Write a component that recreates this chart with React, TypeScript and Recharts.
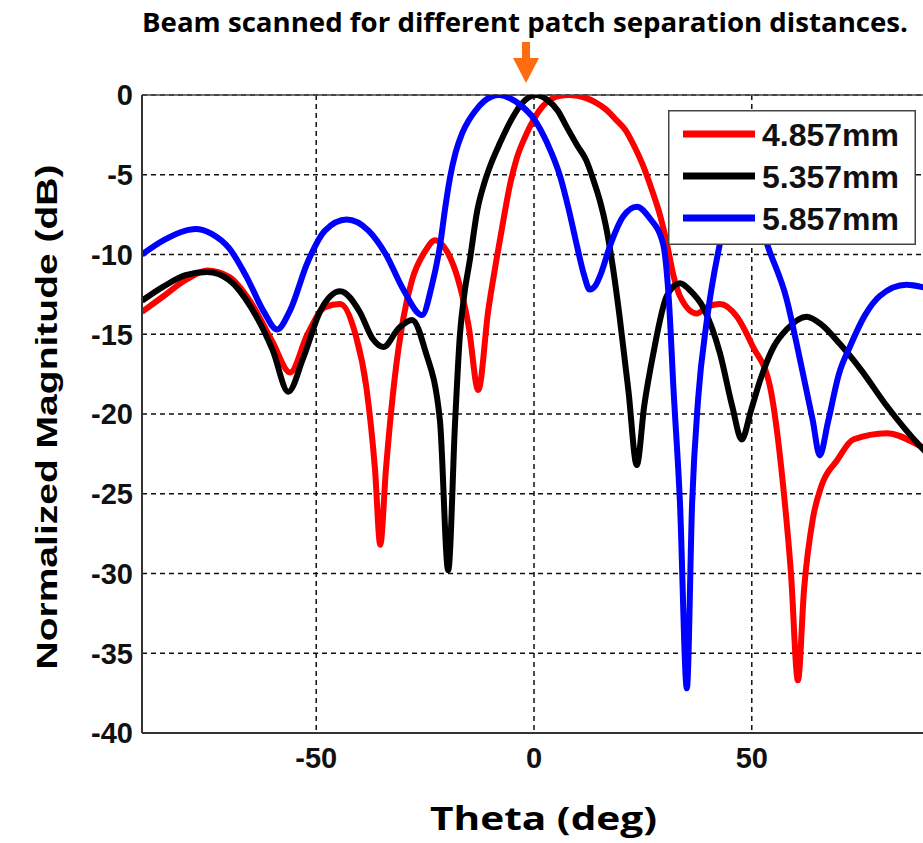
import React from 'react';
import { LineChart, Line, XAxis, YAxis, CartesianGrid, Legend, ReferenceLine } from 'recharts';

// values (theta in deg, magnitude in dB)
const thetaRed = [-90, -85, -80, -75, -70, -65, -60, -56, -52, -48, -44.5, -41, -38.5, -36.5, -35.3, -34, -32, -30, -28, -25, -22.7, -20, -17.5, -15, -12.8, -10.5, -8.6, -7, -5.5, -4, -2, 0, 2, 4, 6, 8, 10, 12, 14, 16.5, 19, 21, 23, 25, 27, 29, 30.5, 32, 33.5, 37.4, 39.7, 42.7, 46.6, 50.3, 54.2, 57.2, 59, 60.6, 62, 64, 66, 69.6, 73.3, 81, 88.6, 90];
const dbRed = [-13.6, -12.6, -11.6, -11.0, -11.4, -13.0, -15.5, -17.4, -15.0, -13.3, -13.1, -15.0, -18.3, -23.5, -28.2, -23.5, -17.8, -14.0, -11.6, -9.8, -9.1, -9.8, -11.5, -14.5, -18.5, -13.5, -10.3, -7.8, -5.6, -4.0, -2.6, -1.5, -0.7, -0.25, -0.05, 0, -0.05, -0.2, -0.45, -0.9, -1.6, -2.2, -3.2, -4.4, -5.9, -7.6, -9.3, -11.3, -12.6, -13.7, -13.3, -13.1, -13.9, -15.8, -18.3, -24.5, -30, -36.7, -31, -26.6, -24.5, -22.9, -21.6, -21.2, -22.0, -22.2];

const thetaBlack = [-90, -85, -80, -75, -70, -65, -60, -56.4, -53, -49, -44.5, -40, -37, -34.6, -31, -28, -25, -21.6, -19.7, -18.1, -17, -16, -14.7, -13, -11.5, -10, -7.8, -5.5, -3, 0.5, 3, 5.5, 7.5, 10, 12, 13.6, 15.2, 16.5, 18, 19.7, 21.7, 23.6, 25.3, 27.4, 30.5, 33.5, 36, 38.8, 42.7, 45.5, 47.7, 49.8, 51.9, 55, 58, 62.6, 66, 70.2, 75, 81, 88.6, 90];
const dbBlack = [-12.9, -12.0, -11.3, -11.1, -11.6, -13.3, -16.0, -18.6, -16.5, -13.5, -12.3, -13.6, -15.3, -15.8, -14.6, -14.1, -16.0, -20.4, -29.8, -20.4, -15.0, -12.5, -10.3, -7.2, -5.6, -4.4, -3.0, -1.7, -0.6, 0, -0.3, -1.0, -2.0, -3.2, -4.1, -5.3, -6.7, -8.2, -10.6, -14.0, -18.6, -23.2, -19.5, -16.2, -12.6, -11.8, -12.3, -13.3, -16.2, -19.5, -21.6, -19.8, -17.9, -15.8, -14.7, -13.9, -14.4, -15.6, -17.2, -19.5, -22.0, -22.4];

const thetaBlue = [-90, -85, -80, -77.8, -74, -70, -66, -62, -59, -56, -52, -48, -43, -38, -34, -30, -25.7, -23.5, -21.5, -20.4, -19.3, -18, -16.5, -15, -13.5, -11.5, -8, -5.5, -3, 0, 3, 6, 8, 9.9, 11.5, 12.8, 14.2, 15.5, 17.4, 20.5, 23.6, 26.5, 29.6, 31, 32, 33.5, 35.1, 36.3, 37.7, 39.7, 42.7, 45, 47.5, 50.5, 53.7, 58, 61, 64, 65.6, 67.5, 70, 72.5, 76, 79.4, 85.5, 90];
const dbBlue = [-10.0, -9.1, -8.5, -8.4, -8.7, -9.6, -11.4, -13.6, -14.7, -13.5, -10.5, -8.5, -7.8, -8.5, -10.0, -12.2, -13.8, -12.0, -9.3, -7.1, -5.2, -3.6, -2.4, -1.6, -1.0, -0.4, 0, -0.2, -0.65, -1.5, -3.0, -5.1, -7.2, -9.5, -11.3, -12.2, -11.9, -11.1, -9.5, -7.6, -7.0, -7.7, -9.3, -13, -18.3, -25.5, -37.2, -25.6, -19, -14.1, -9.3, -6.8, -6.0, -6.8, -9.5, -12.8, -16.5, -20.4, -22.6, -20.5, -17.5, -15.8, -13.8, -12.6, -11.9, -12.1];

const xTicks = [-50, 0, 50];
const yTicks = [0, -5, -10, -15, -20, -25, -30, -35, -40];

const seriesNames = ['4.857mm', '5.357mm', '5.857mm'];
const seriesColors = ['#ff0000', '#000000', '#0000ff'];

const toPoints = (thetas: number[], dbs: number[]) =>
  thetas.map((t, i) => ({ theta: t, db: dbs[i] }));

const series = [
  toPoints(thetaRed, dbRed),
  toPoints(thetaBlack, dbBlack),
  toPoints(thetaBlue, dbBlue),
];

const tickFont = { fontFamily: '"Liberation Sans", Arial, sans-serif', fontWeight: 700, fontSize: 29, fill: '#111' };

// boxed legend like the MATLAB one
const BoxLegend = () => (
  <svg width={248} height={135}>
    <rect x={0.75} y={0.75} width={246.5} height={133.5} fill="#fff" stroke="#444" strokeWidth={1.5} />
    {seriesNames.map((name, i) => (
      <g key={name}>
        <line x1={15} x2={87} y1={24 + i * 42} y2={24 + i * 42} stroke={seriesColors[i]} strokeWidth={7} />
        <text
          x={94}
          y={24 + i * 42}
          dy="0.36em"
          fontFamily='"Liberation Sans", Arial, sans-serif'
          fontWeight={700}
          fontSize={32}
          fill="#111"
        >
          {name}
        </text>
      </g>
    ))}
  </svg>
);

export default function App() {
  return (
    <div style={{ position: 'absolute', left: 0, top: 0, width: 923, height: 843, overflow: 'hidden', background: '#fff' }}>
      <LineChart width={930} height={843} margin={{ top: 95, right: 4, bottom: 0, left: 0 }}>
        <CartesianGrid stroke="#111" strokeWidth={1.5} strokeDasharray="5 4" />
        <XAxis
          dataKey="theta"
          type="number"
          domain={[-90, 90]}
          ticks={xTicks}
          allowDataOverflow
          height={110}
          tickSize={0}
          tickMargin={14}
          tick={tickFont}
          axisLine={{ stroke: '#333', strokeWidth: 2 }}
        />
        <YAxis
          type="number"
          domain={[-40, 0]}
          ticks={yTicks}
          allowDataOverflow
          width={142}
          tickSize={0}
          tickMargin={9}
          tick={tickFont}
          axisLine={{ stroke: '#333', strokeWidth: 2 }}
        />
        <ReferenceLine y={0} stroke="#444" strokeWidth={1.5} />
        {series.map((pts, i) => (
          <Line
            key={seriesNames[i]}
            data={pts}
            dataKey="db"
            name={seriesNames[i]}
            type="monotone"
            stroke={seriesColors[i]}
            strokeWidth={6}
            dot={false}
            isAnimationActive={false}
          />
        ))}
        <Legend
          layout="vertical"
          align="center"
          verticalAlign="middle"
          content={() => <BoxLegend />}
          wrapperStyle={{ position: 'absolute', left: 668, top: 110, width: 248, height: 135 }}
        />
      </LineChart>

      {/* annotation text and arrow */}
      <svg width={923} height={843} style={{ position: 'absolute', left: 0, top: 0, pointerEvents: 'none' }}>
        <text x={142} y={32} fontFamily='"Open Sans", sans-serif' fontWeight={700} fontSize={27} fill="#000" textLength={766} lengthAdjust="spacingAndGlyphs">
          Beam scanned for different patch separation distances.
        </text>
        <path d="M522,42 L530,42 L530,58 L539,58 L526,83 L513,58 L522,58 Z" fill="#ff6c0f" />
        <text x={430} y={830} fontFamily='"Open Sans", sans-serif' fontWeight={700} fontSize={33} fill="#000" textLength={227} lengthAdjust="spacingAndGlyphs">
          Theta (deg)
        </text>
        <text
          transform="translate(57, 417) rotate(-90)"
          textAnchor="middle"
          fontFamily='"Liberation Sans", Arial, sans-serif'
          fontWeight={700}
          fontSize={30}
          fill="#000"
          textLength={505}
          lengthAdjust="spacingAndGlyphs"
        >
          Normalized Magnitude (dB)
        </text>
      </svg>
    </div>
  );
}
